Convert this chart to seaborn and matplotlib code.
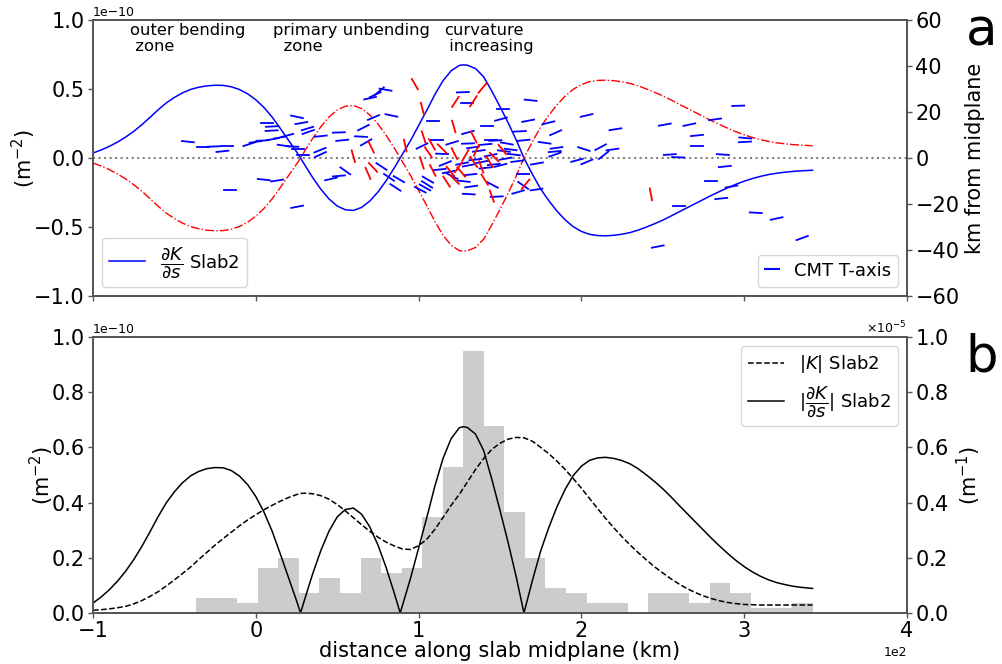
import numpy as np
import pandas as pd
import matplotlib
matplotlib.use("Agg")
import matplotlib.pyplot as plt
import seaborn as sns
from matplotlib.lines import Line2D

# ---------------- data ----------------
# distance along slab midplane (km)
s_km = [-100, -95, -90, -85, -80, -75, -70, -65, -60, -55, -50, -45, -40, -35, -30, -25, -20,
        -15, -10, -5, 0, 5, 10, 15, 20, 25, 27.5, 30, 35, 40, 45, 50, 55, 60, 65, 70, 75, 80,
        85, 88.7, 90, 95, 100, 105, 110, 115, 120, 125, 127.5, 130, 135, 140, 145, 150, 155,
        160, 164.7, 170, 175, 180, 185, 190, 195, 200, 205, 210, 215, 220, 225, 230, 235, 240,
        245, 250, 255, 260, 265, 270, 275, 280, 285, 290, 295, 300, 305, 310, 315, 320, 325,
        330, 335, 340, 342]
# dK/ds Slab2 (x 1e-10 m^-2)
dkds = [0.036, 0.058, 0.084, 0.115, 0.151, 0.193, 0.241, 0.294, 0.349, 0.399, 0.439, 0.472,
        0.497, 0.513, 0.523, 0.527, 0.526, 0.516, 0.496, 0.465, 0.422, 0.366, 0.297, 0.215,
        0.130, 0.045, 0.0, -0.049, -0.143, -0.227, -0.297, -0.348, -0.375, -0.380, -0.358,
        -0.312, -0.247, -0.166, -0.073, 0.0, 0.026, 0.125, 0.235, 0.345, 0.460, 0.560, 0.632,
        0.671, 0.675, 0.672, 0.648, 0.588, 0.484, 0.372, 0.255, 0.130, 0.0, -0.120, -0.225,
        -0.310, -0.385, -0.448, -0.498, -0.532, -0.553, -0.562, -0.564, -0.560, -0.552, -0.540,
        -0.522, -0.500, -0.476, -0.450, -0.421, -0.390, -0.360, -0.330, -0.300, -0.270, -0.242,
        -0.215, -0.190, -0.168, -0.149, -0.133, -0.120, -0.110, -0.103, -0.097, -0.093, -0.090,
        -0.089]
# |K| Slab2 (x 1e-5 m^-1)
abs_k = [0.010, 0.012, 0.015, 0.019, 0.024, 0.033, 0.045, 0.060, 0.077, 0.098, 0.120, 0.143,
         0.167, 0.194, 0.220, 0.246, 0.270, 0.293, 0.316, 0.337, 0.356, 0.374, 0.390, 0.405,
         0.418, 0.429, 0.433, 0.434, 0.432, 0.425, 0.412, 0.393, 0.370, 0.345, 0.320, 0.296,
         0.275, 0.257, 0.243, 0.235, 0.232, 0.230, 0.244, 0.267, 0.303, 0.346, 0.390, 0.430,
         0.452, 0.475, 0.520, 0.560, 0.593, 0.615, 0.630, 0.636, 0.635, 0.622, 0.600, 0.577,
         0.550, 0.520, 0.487, 0.452, 0.415, 0.378, 0.342, 0.308, 0.276, 0.246, 0.218, 0.192,
         0.167, 0.145, 0.124, 0.105, 0.088, 0.074, 0.062, 0.052, 0.044, 0.038, 0.034, 0.031,
         0.030, 0.029, 0.029, 0.029, 0.029, 0.029, 0.029, 0.029, 0.029]

# earthquake histogram (bar heights, x 1e-10), 30 bins between these limits (km)
hist_range = (-36.6, 342.0)
hist_heights = [0.055, 0.055, 0.036, 0.164, 0.201, 0.073, 0.128, 0.073, 0.201, 0.146,
                0.164, 0.347, 0.530, 0.950, 0.676, 0.365, 0.201, 0.091, 0.073, 0.036,
                0.036, 0.0, 0.073, 0.073, 0.036, 0.110, 0.073, 0.018, 0.018, 0.036]

# CMT T-axes: position along slab (km), km from midplane, apparent dip (deg)
blue_x = [6.6, 10.0, 9.7, 25.3, 28.0, -41.7, -32.2, -25.9, -20.5, -17.9, -4.1, -0.1, 4.1, 10.5,
          14.8, 19.4, 17.1, 22.4, 26.1, 28.8, 4.9, 13.1, -15.8, 25.4, 31.7, 32.2, 39.9, 51.0,
          53.1, 64.6, 66.1, 67.8, 72.3, 83.3, 70.2, 73.3, 75.8, 79.7, 39.4, 39.7, 55.0, 46.2,
          51.0, 77.2, 81.8, 85.8, 87.9, 127.2, 130.0, 108.9, 111.5, 141.9, 130.3, 120.6, 102.1,
          130.3, 133.4, 137.0, 141.1, 144.7, 114.4, 112.9, 116.4, 118.5, 120.6, 126.7, 130.8,
          134.9, 139.1, 141.1, 144.2, 146.2, 131.8, 127.7, 132.3, 130.8, 145.4, 101.0, 103.9,
          105.2, 105.7, 168.8, 151.7, 150.6, 167.3, 179.8, 184.2, 162.2, 147.2, 154.2, 164.5,
          177.4, 184.7, 183.6, 183.8, 156.5, 152.4, 158.5, 153.4, 150.3, 160.6, 172.7, 163.9,
          164.2, 172.4, 161.1, 148.0, 203.2, 220.9, 251.2, 266.3, 282.1, 271.0, 271.1, 201.5,
          211.8, 219.1, 213.7, 197.3, 203.4, 254.3, 259.4, 279.7, 259.9, 246.9, 296.3, 300.7,
          300.5, 286.9, 288.1, 292.2, 285.9, 307.1, 319.9, 335.6]
blue_z = [15.0, 13.7, 11.9, 17.9, 15.2, 7.1, 4.8, 5.0, 2.9, 5.4, 6.0, 7.0, 7.6, 8.2, 8.9, 9.8,
          5.4, 5.0, 3.9, 1.3, -9.4, -9.8, -14.1, -21.2, 12.8, 11.3, 9.5, 11.1, 7.7, 9.3, 13.2,
          6.8, 17.6, 18.5, 26.0, 27.5, 29.0, 29.7, 3.4, 1.5, -5.6, -9.1, -7.8, -3.7, -8.4,
          -12.8, -9.2, 28.6, 23.7, 16.0, 7.7, 13.7, 11.1, 6.6, 5.2, 6.3, 4.6, 3.1, 5.9, 7.7,
          1.8, -5.0, -2.4, -6.1, -7.9, -2.4, -3.2, -0.7, -1.7, -4.3, 1.2, -2.8, -7.2, -10.1,
          -12.4, -15.7, -11.7, -13.8, -12.8, -11.5, -9.4, 25.1, 21.1, 16.9, 16.2, 15.3, 11.0,
          11.6, 7.6, 6.3, 7.7, 6.6, 4.4, 2.8, 1.5, 3.7, 3.0, 1.5, -0.3, -3.2, -1.4, -2.4, -6.8,
          -11.9, -13.7, -14.8, -16.8, 18.5, 12.5, 14.5, 14.5, 16.8, 9.8, 5.2, 3.9, 4.7, 3.7,
          1.2, -1.0, -1.7, 1.5, 0.3, -10.0, -21.0, -38.5, 22.7, 8.7, 7.0, 1.5, -3.7, -12.4,
          -17.6, -23.8, -26.3, -34.8]
blue_dip = [0, 3, 3, -12, 10, -6, 0, 2, 6, 0, 18, 8, 3, 10, 10, 15, -8, -3, 0, 0, -6, 9, 0, 11,
            17, 19, 6, 2, 6, -3, 27, 30, 23, -12, 12, 25, 40, -10, 22, 25, -35, 13, 5, -33, -34,
            -33, -30, 2, 0, 0, 0, 0, 15, 17, 26, 2, 8, 8, 5, 0, -2, 6, 22, 11, -27, 11, 11, 6,
            11, 6, 11, 6, 6, -6, 8, -3, -28, -27, -29, -32, -30, -6, 0, 15, 11, 14, 24, 3, 3,
            -10, 6, -8, 8, 5, 20, -7, -7, -7, 10, 14, 7, 10, 0, -35, 8, 16, 3, 13, 9, 10, 12, 8,
            6, 0, -18, 28, 8, 38, 15, 23, 4, -2, 0, 0, 11, 2, -5, 3, -4, 6, 10, 6, -3, 12, 20]
red_x = [59.9, 70.9, 72.0, 68.9, 91.8, 97.7, 102.3, 122.6, 133.7, 139.2, 121.6, 103.1, 108.2,
         114.4, 122.0, 133.9, 133.9, 138.5, 143.7, 119.5, 122.1, 126.2, 117.2, 108.7, 145.0,
         140.6, 146.4, 151.4, 165.7, 242.7, 102.0, 106.0, 128.8, 135.5, 124.5]
red_z = [0.8, 4.7, -4.1, -6.7, 5.4, 32.1, 21.5, 24.4, 24.7, 30.4, 13.7, 9.1, 5.9, 4.1, 1.9, 9.1,
         -1.7, -3.9, -1.7, -5.8, -9.4, -6.1, -10.3, -5.4, -16.6, -9.4, 0.4, 3.7, -11.4, -15.8,
         -2.1, 2.5, 1.2, 3.4, -4.0]
red_dip = [-74, -64, -47, -66, -78, -60, -75, 57, 57, 50, -74, -72, -60, -45, -63, -63, -56, -70,
           -60, -51, -45, -50, -57, -63, -70, -58, -45, -51, 51, -79, -72, -55, 60, 65, 55]

zone_labels = ["outer bending\n zone", "primary unbending\n  zone", "curvature\n increasing"]
zone_label_x = [-77.5, 10.5, 115.8]

# ---------------- figure ----------------
plt.rcParams['font.family'] = ['DejaVu Sans']
plt.rcParams['mathtext.fontset'] = 'dejavusans'
fig = plt.figure(figsize=(10.02, 6.64), dpi=100)
L, W, H = 0.0928, 0.8124, 0.4157
ax1 = fig.add_axes([L, 0.5542, W, H])
ax2 = fig.add_axes([L, 0.0768, W, H])
ax1r = ax1.twinx()
ax2r = ax2.twinx()

s = np.array(s_km)
g = np.array(dkds) * 1e-10
k = np.array(abs_k) * 1e-5

# --- panel a ---
sns.lineplot(x=s, y=g, ax=ax1, color='blue', lw=1.1, sort=False)
sns.lineplot(x=s, y=-g, ax=ax1, color='red', lw=1.0, sort=False, linestyle='-.')
ax1.axhline(0, color='gray', ls=':', lw=1.5, zorder=1)
ax1.set_xlim(-100, 400)
ax1.set_ylim(-1e-10, 1e-10)
ax1.set_yticks([-1e-10, -0.5e-10, 0, 0.5e-10, 1e-10])
ax1.ticklabel_format(axis='y', style='sci', scilimits=(0, 0))
ax1.set_xticks([-100, 0, 100, 200, 300, 400])
ax1.tick_params(labelbottom=False)
ax1.set_ylabel('(m$^{-2}$)', fontsize=15, labelpad=-3)

for txt, xx in zip(zone_labels, zone_label_x):
    ax1.text(xx, 0.975e-10, txt, fontsize=11.8, va='top', ha='left', linespacing=1.05)

# segments
ax_w_px = W * 1002
ax_h_px = H * 664
ppk_x = ax_w_px / 500.0
ppk_z = ax_h_px / 120.0
half_px = 6.0
rows = []
sid = 0
for xs, zs, ds, kind in [(blue_x, blue_z, blue_dip, 'b'), (red_x, red_z, red_dip, 'r')]:
    for x0, z0, d in zip(xs, zs, ds):
        dx = half_px * np.cos(np.radians(d)) / ppk_x
        dz = half_px * np.sin(np.radians(d)) / ppk_z
        rows.append(dict(x=x0 - dx, z=z0 - dz, seg=sid, kind=kind))
        rows.append(dict(x=x0 + dx, z=z0 + dz, seg=sid, kind=kind))
        sid += 1
seg_df = pd.DataFrame(rows)
sns.lineplot(data=seg_df, x='x', y='z', units='seg', estimator=None, hue='kind',
             hue_order=['b', 'r'], palette={'b': 'blue', 'r': 'red'}, sort=False,
             legend=False, lw=1.3, ax=ax1r)
ax1r.set_ylim(-60, 60)
ax1r.set_yticks([-60, -40, -20, 0, 20, 40, 60])
ax1r.set_xlim(-100, 400)
ax1r.set_ylabel('km from midplane', fontsize=15)
ax1r.set_xlabel('')

ax1.legend(handles=[Line2D([], [], color='blue', lw=1.1)],
           labels=[r'$\dfrac{\partial K}{\partial s}$ Slab2'],
           loc='lower left', fontsize=13)
ax1r.legend(handles=[Line2D([], [], color='blue', lw=1.5)], labels=['CMT T-axis'],
            loc='lower right', fontsize=13, handlelength=0.8)

# --- panel b ---
hist_df = pd.DataFrame({'c': np.linspace(hist_range[0], hist_range[1], 2 * len(hist_heights) + 1)[1::2],
                        'w': np.array(hist_heights) * 1e-10})
sns.histplot(data=hist_df, x='c', weights='w', bins=len(hist_heights), binrange=hist_range,
             ax=ax2, color='#cccccc', alpha=1.0, edgecolor='none', linewidth=0)
sns.lineplot(x=s, y=np.abs(g), ax=ax2, color='black', lw=1.1, sort=False)
sns.lineplot(x=s, y=k, ax=ax2r, color='black', lw=1.1, sort=False, linestyle='--')
ax2.set_xlim(-100, 400)
ax2.set_ylim(0, 1e-10)
ax2.set_yticks(np.arange(0, 1.01, 0.2) * 1e-10)
ax2.set_xticks([-100, 0, 100, 200, 300, 400])
ax2.ticklabel_format(axis='both', style='sci', scilimits=(0, 0))
ax2.set_ylabel('(m$^{-2}$)', fontsize=15, labelpad=-3)
ax2.set_xlabel('distance along slab midplane (km)', fontsize=15, labelpad=0)
ax2r.set_ylim(0, 1e-5)
ax2r.set_yticks(np.arange(0, 1.01, 0.2) * 1e-5)
ax2r.ticklabel_format(axis='y', style='sci', scilimits=(0, 0), useMathText=True)
ax2r.set_ylabel('(m$^{-1}$)', fontsize=15)
ax2r.legend(handles=[Line2D([], [], color='black', lw=1.1, ls='--'),
                     Line2D([], [], color='black', lw=1.1)],
            labels=[r'$|K|$ Slab2', r'$|\dfrac{\partial K}{\partial s}|$ Slab2'],
            loc='upper right', fontsize=13)

spine_col = '#555555'
for a in (ax1, ax1r, ax2, ax2r):
    for sp in a.spines.values():
        sp.set_color(spine_col)
        sp.set_linewidth(1.3)
    a.tick_params(labelsize=15, color=spine_col, width=1.0, length=3.5, pad=2.5)
    a.yaxis.get_offset_text().set_fontsize(9)
    a.xaxis.get_offset_text().set_fontsize(9)

fig.text(0.980, 0.932, 'a', fontsize=37, ha='center', va='baseline')
fig.text(0.980, 0.440, 'b', fontsize=37, ha='center', va='baseline')

fig.savefig('out.png', dpi=100)
